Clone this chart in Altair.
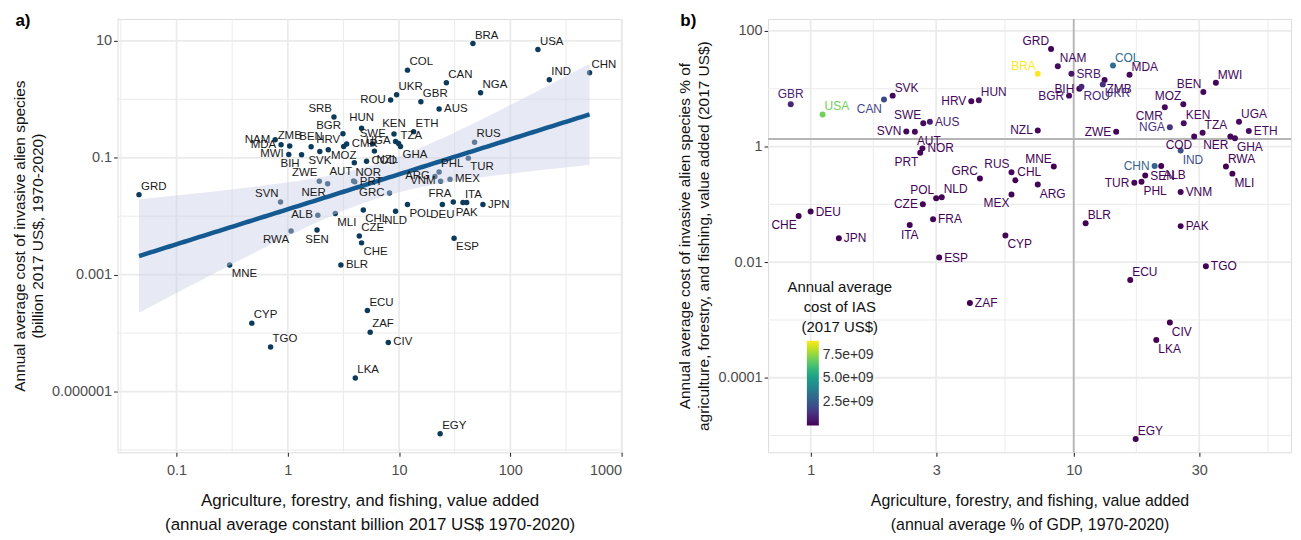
import altair as alt
import numpy as np
import pandas as pd

# ---------------- data ----------------
codes = ["GBR", "USA", "CAN", "SVK", "SWE", "AUS", "SVN", "AUT", "NOR", "PRT",
         "HRV", "HUN", "GRD", "NAM", "BRA", "SRB", "BIH", "ROU", "BGR", "NZL",
         "COL", "ZMB", "UKR", "MDA", "ZWE", "BEN", "MWI", "MOZ", "CMR", "KEN",
         "NGA", "UGA", "ETH", "TZA", "COD", "NER", "GHA", "IND", "CHN", "ALB",
         "RWA", "MLI", "MNE", "GRC", "RUS", "CHL", "ARG", "MEX", "POL", "NLD",
         "CZE", "FRA", "ITA", "CHE", "DEU", "JPN", "ESP", "CYP", "BLR", "TUR",
         "PHL", "SEN", "VNM", "PAK", "TGO", "ECU", "ZAF", "CIV", "LKA", "EGY"]

# agriculture, forestry & fishing value added (billion 2017 US$)
va_bn = [15.7, 177, 26.6, 1.94, 5.8, 22.9, 0.86, 3.96, 3.9, 4.0,
         2.31, 4.6, 0.046, 0.77, 46.1, 2.6, 1.33, 8.4, 3.13, 6.0,
         11.9, 1.04, 9.5, 0.87, 1.92, 1.62, 1.02, 3.18, 3.38, 9.0,
         54, 9.3, 13.5, 9.9, 5.1, 2.28, 10.3, 224, 515, 1.86,
         1.07, 2.67, 0.30, 8.2, 47.7, 4.77, 21.0, 28.7, 11.9, 9.3,
         4.39, 30.7, 37.5, 4.6, 24.5, 56.7, 31.2, 0.475, 3.0, 41.9,
         22.9, 1.83, 23.6, 40.5, 0.70, 5.19, 5.5, 8.0, 4.04, 23.4]

# annual average cost of invasive alien species (billion 2017 US$)
cost_bn = [0.91, 7.1, 1.92, 0.128, 0.173, 0.685, 0.0175, 0.082, 0.040, 0.0387,
           0.137, 0.32, 0.0234, 0.203, 9.0, 0.50, 0.113, 0.975, 0.257, 0.13,
           3.16, 0.159, 1.20, 0.167, 0.0396, 0.155, 0.114, 0.156, 0.172, 0.255,
           1.30, 0.19, 0.28, 0.175, 0.087, 0.036, 0.156, 2.16, 2.85, 0.0104,
           0.0056, 0.0111, 0.00146, 0.025, 0.185, 0.0128, 0.048, 0.043, 0.0158, 0.0122,
           0.0046, 0.0175, 0.0171, 0.0035, 0.0158, 0.0158, 0.0042, 0.000148, 0.00146, 0.0986,
           0.057, 0.0058, 0.0396, 0.0171, 0.000058, 0.000243, 0.000103, 0.000069, 0.000017, 0.0000019]

# agriculture value added, annual average % of GDP
agri_pct_gdp = [0.84, 1.11, 1.90, 2.05, 2.68, 2.84, 2.31, 2.49, 2.66, 2.61,
                4.08, 4.36, 8.2, 8.7, 7.3, 9.8, 10.5, 10.7, 9.6, 7.3,
                14.1, 13.1, 12.9, 16.3, 14.5, 31.1, 34.7, 26.1, 22.2, 26.2,
                23.2, 42.5, 46.3, 30.9, 28.7, 39.4, 41.0, 25.5, 20.3, 21.5,
                37.9, 40.1, 8.4, 4.4, 5.8, 6.0, 7.3, 5.8, 3.0, 3.15,
                2.67, 2.92, 2.38, 0.90, 1.0, 1.28, 3.08, 5.5, 11.1, 17.0,
                18.1, 18.7, 25.5, 25.5, 31.8, 16.4, 4.03, 23.2, 20.6, 17.2]

# cost of IAS as % of agriculture value added
cost_pct_va = [5.4, 3.6, 6.5, 7.6, 2.53, 2.68, 1.82, 1.8, 0.93, 0.78,
               6.07, 6.3, 48.5, 24.5, 18.2, 18.2, 10.0, 10.8, 7.6, 1.9,
               25.2, 14.2, 11.9, 17.4, 1.8, 8.8, 12.7, 5.4, 4.8, 2.53,
               2.15, 2.68, 1.85, 1.73, 1.49, 1.49, 1.39, 0.85, 0.46, 0.46,
               0.45, 0.34, 0.45, 0.28, 0.36, 0.26, 0.22, 0.148, 0.127, 0.133,
               0.10, 0.055, 0.044, 0.063, 0.075, 0.026, 0.012, 0.029, 0.047, 0.236,
               0.246, 0.315, 0.163, 0.042, 0.0085, 0.0049, 0.00196, 0.0009, 0.00045, 0.0000087]

# reference lines of panel b
ref_pct_gdp = [10]
ref_cost_pct = [1.35]

# tick values / gridlines
a_x_major = [0.1, 1, 10, 100, 1000]
a_x_minor = [0.0316, 0.316, 3.16, 31.6, 316]
a_y_major = [10, 0.1, 0.001, 0.00001]
a_y_minor = [1, 0.01, 0.0001, 0.000001]
b_x_major = [1, 3, 10, 30]
b_x_minor = [1.73, 5.48, 17.3, 54.8]
b_y_major = [100, 1, 0.01, 0.0001]
b_y_minor = [10, 0.1, 0.001, 0.00001]
legend_values = [2.5e9, 5.0e9, 7.5e9]

# label placement (repel-like side of the point)
pos_a = {"GBR": "ne", "USA": "ne", "CAN": "ne", "SVK": "s", "SWE": "n", "AUS": "e", "SVN": "nw",
         "AUT": "sw", "NOR": "ne", "PRT": "e", "HRV": "n", "HUN": "n", "GRD": "ne", "NAM": "w",
         "BRA": "ne", "SRB": "nw", "BIH": "sw", "ROU": "w", "BGR": "nw", "NZL": "se", "COL": "ne",
         "ZMB": "n", "UKR": "ne", "MDA": "w", "ZWE": "nw", "BEN": "n", "MWI": "w", "MOZ": "s",
         "CMR": "e", "KEN": "n", "NGA": "ne", "UGA": "w", "ETH": "ne", "TZA": "ne", "COD": "e",
         "NER": "sw", "GHA": "se", "IND": "ne", "CHN": "ne", "ALB": "w", "RWA": "sw", "MLI": "se",
         "MNE": "se", "GRC": "w", "RUS": "ne", "CHL": "se", "ARG": "w", "MEX": "e", "POL": "se",
         "NLD": "s", "CZE": "ne", "FRA": "nw", "ITA": "ne", "CHE": "se", "DEU": "s", "JPN": "e",
         "ESP": "se", "CYP": "ne", "BLR": "e", "TUR": "se", "PHL": "ne", "SEN": "s", "VNM": "w",
         "PAK": "s", "TGO": "ne", "ECU": "ne", "ZAF": "ne", "CIV": "e", "LKA": "ne", "EGY": "ne"}
pos_b = {"GBR": "n", "USA": "ne", "CAN": "sw", "SVK": "ne", "SWE": "nw", "AUS": "e", "SVN": "w",
         "AUT": "se", "NOR": "e", "PRT": "sw", "HRV": "w", "HUN": "ne", "GRD": "nw", "NAM": "ne",
         "BRA": "nw", "SRB": "e", "BIH": "w", "ROU": "se", "BGR": "w", "NZL": "w", "COL": "ne",
         "ZMB": "se", "UKR": "se", "MDA": "ne", "ZWE": "w", "BEN": "nw", "MWI": "ne", "MOZ": "nw",
         "CMR": "sw", "KEN": "ne", "NGA": "w", "UGA": "ne", "ETH": "e", "TZA": "ne", "COD": "sw",
         "NER": "sw", "GHA": "se", "IND": "se", "CHN": "w", "ALB": "se", "RWA": "ne", "MLI": "se",
         "MNE": "nw", "GRC": "nw", "RUS": "nw", "CHL": "ne", "ARG": "se", "MEX": "sw", "POL": "nw",
         "NLD": "ne", "CZE": "w", "FRA": "e", "ITA": "s", "CHE": "sw", "DEU": "e", "JPN": "e",
         "ESP": "e", "CYP": "se", "BLR": "ne", "TUR": "w", "PHL": "se", "SEN": "e", "VNM": "e",
         "PAK": "e", "TGO": "e", "ECU": "ne", "ZAF": "e", "CIV": "se", "LKA": "se", "EGY": "ne"}

OFFSETS = {"e": (5, 0, "left"), "w": (-5, 0, "right"), "ne": (2, -8, "left"),
           "nw": (-2, -8, "right"), "se": (2, 9, "left"), "sw": (-2, 9, "right"),
           "n": (0, -10, "center"), "s": (0, 10, "center")}

df = pd.DataFrame({"code": codes, "va_bn": va_bn, "cost_bn": cost_bn,
                   "agri_pct_gdp": agri_pct_gdp, "cost_pct_va": cost_pct_va})
df["cost_usd"] = df["cost_bn"] * 1e9
df["pos_a"] = df["code"].map(pos_a)
df["pos_b"] = df["code"].map(pos_b)

# ---------------- linear fit on log10 scales with 95% CI ----------------
lx = np.log10(df["va_bn"].to_numpy())
ly = np.log10(df["cost_bn"].to_numpy())
n = len(lx)
b1, b0 = np.polyfit(lx, ly, 1)
resid = ly - (b0 + b1 * lx)
s = np.sqrt(np.sum(resid ** 2) / (n - 2))
sxx = np.sum((lx - lx.mean()) ** 2)
grid = np.linspace(lx.min(), lx.max(), 120)
fit = b0 + b1 * grid
se = s * np.sqrt(1.0 / n + (grid - lx.mean()) ** 2 / sxx)
t95 = 1.995
fit_df = pd.DataFrame({"x": 10 ** grid, "y": 10 ** fit,
                       "lo": 10 ** (fit - t95 * se), "hi": 10 ** (fit + t95 * se)})

FONT = "Liberation Sans"
GRID_COL = "#ebebeb"

axis_common = dict(grid=False, domain=False, tickColor="#333333", tickSize=4, tickWidth=1.1,
                   labelFontSize=14.5, labelColor="#4d4d4d", labelFont=FONT,
                   titleFont=FONT, titleFontWeight="normal", titleColor="#111111")

# ---------------- panel a scales / axes ----------------
xa = alt.Scale(type="log", domain=[10 ** -1.53, 1000], nice=False)
ya = alt.Scale(type="log", domain=[10 ** -6.04, 10 ** 1.375], nice=False)
ax_a_x = alt.Axis(values=a_x_major, format="~g", labelPadding=7, titleFontSize=17,
                  titlePadding=16, titleLineHeight=24,
                  title=["Agriculture, forestry, and fishing, value added",
                         "(annual average constant billion 2017 US$  1970-2020)"], **axis_common)
ax_a_y = alt.Axis(values=a_y_major, labelPadding=2, titleFontSize=15.5, titlePadding=6,
                  titleLineHeight=18,
                  labelExpr="datum.value > 1 ? '10' : datum.value > 0.01 ? '0.1' : datum.value > 0.0001 ? '0.001' : '0.000001'",
                  title=["Annual average cost of invasive alien species",
                         "(billion 2017 US$, 1970-2020)"], **axis_common)

def XA(f):
    return alt.X(f, scale=xa, axis=ax_a_x)

def YA(f):
    return alt.Y(f, scale=ya, axis=ax_a_y)

# ---------------- panel b scales / axes ----------------
xb = alt.Scale(type="log", domain=[10 ** -0.162, 10 ** 1.826], nice=False)
yb = alt.Scale(type="log", domain=[10 ** -5.29, 10 ** 2.207], nice=False)
ax_b_x = alt.Axis(values=b_x_major, format="~g", labelPadding=7, titleFontSize=16,
                  titlePadding=16, titleLineHeight=24,
                  title=["Agriculture, forestry, and fishing, value added",
                         "(annual average % of GDP, 1970-2020)"], **axis_common)
ax_b_y = alt.Axis(values=b_y_major, format="~g", labelPadding=2, titleFontSize=15.5,
                  titlePadding=6, titleLineHeight=19,
                  title=["Annual average cost of invasive alien species % of",
                         "agriculture, forestry, and fishing, value added (2017 US$)"], **axis_common)

def XB(f):
    return alt.X(f, scale=xb, axis=ax_b_x)

def YB(f):
    return alt.Y(f, scale=yb, axis=ax_b_y)

def vgrid(vals, X, width, color=GRID_COL):
    return alt.Chart(pd.DataFrame({"v": vals})).mark_rule(color=color, strokeWidth=width).encode(x=X("v:Q"))

def hgrid(vals, Y, width, color=GRID_COL):
    return alt.Chart(pd.DataFrame({"v": vals})).mark_rule(color=color, strokeWidth=width).encode(y=Y("v:Q"))

base = alt.Chart(df)

def label_layers(pos_field, xenc, yenc, color=None, fixed_color=None, size=11.5):
    layers = []
    for key, (dx, dy, align) in OFFSETS.items():
        enc = dict(x=xenc, y=yenc, text="code:N")
        if color is not None:
            enc["color"] = color
        kw = dict(dx=dx, dy=dy, align=align, baseline="middle", fontSize=size, font=FONT)
        if fixed_color is not None:
            kw["color"] = fixed_color
        layers.append(base.transform_filter(alt.datum[pos_field] == key).mark_text(**kw).encode(**enc))
    return layers

# ---------------- panel a ----------------
pts_a = base.mark_circle(size=30, opacity=1, color="#0c3a5b").encode(
    x=XA("va_bn:Q"), y=YA("cost_bn:Q"))

band_a = alt.Chart(fit_df).mark_area(color="#c9cfe6", opacity=0.45).encode(
    x=XA("x:Q"), y=YA("lo:Q"), y2="hi:Q")
line_a = alt.Chart(fit_df).mark_line(color="#145a91", strokeWidth=4.5).encode(
    x=XA("x:Q"), y=YA("y:Q"))

labels_a = label_layers("pos_a", XA("va_bn:Q"), YA("cost_bn:Q"), fixed_color="#1a1a1a")

tag_a = alt.Chart(pd.DataFrame({"t": ["a)"]})).mark_text(
    fontSize=17, fontWeight="bold", font=FONT, align="center", baseline="middle", color="#000").encode(
    text="t:N", x=alt.value(-95), y=alt.value(2))

panel_a = alt.layer(
    vgrid(a_x_minor, XA, 1.0), hgrid(a_y_minor, YA, 1.0),
    vgrid(a_x_major, XA, 1.8), hgrid(a_y_major, YA, 1.8),
    pts_a, band_a, line_a, *labels_a, tag_a
).properties(width=506, height=435)

# ---------------- panel b ----------------
cmin = float(df["cost_usd"].min())
cmax = float(df["cost_usd"].max())
cscale = alt.Scale(scheme="viridis", domain=[cmin, cmax])

legend_b = alt.Legend(
    title=["Annual average", "cost of IAS", "(2017 US$)"],
    orient="none", legendX=672, legendY=262, direction="vertical",
    gradientLength=85, gradientThickness=12, values=legend_values,
    labelExpr="format(datum.value / 1e9, '.1f') + 'e+09'",
    titleFontSize=15, titleFontWeight="normal", titleFont=FONT, titleColor="#111111",
    titleLineHeight=20, titleAlign="center", titleAnchor="middle", titlePadding=6,
    labelFontSize=14, labelFont=FONT, labelColor="#333333", labelOffset=4,
    gradientStrokeWidth=0)

ref_v = vgrid(ref_pct_gdp, XB, 1.8, color="#b5b5b5")
ref_h = hgrid(ref_cost_pct, YB, 1.8, color="#b5b5b5")

pts_b = base.mark_circle(size=36, opacity=1).encode(
    x=XB("agri_pct_gdp:Q"), y=YB("cost_pct_va:Q"),
    color=alt.Color("cost_usd:Q", scale=cscale, legend=legend_b))

labels_b = label_layers("pos_b", XB("agri_pct_gdp:Q"), YB("cost_pct_va:Q"),
                        color=alt.Color("cost_usd:Q", scale=cscale, legend=legend_b),
                        size=12)

tag_b = alt.Chart(pd.DataFrame({"t": ["b)"]})).mark_text(
    fontSize=17, fontWeight="bold", font=FONT, align="center", baseline="middle", color="#000").encode(
    text="t:N", x=alt.value(-80), y=alt.value(2))

panel_b = alt.layer(
    vgrid(b_x_minor, XB, 1.0), hgrid(b_y_minor, YB, 1.0),
    vgrid(b_x_major, XB, 1.8), hgrid(b_y_major, YB, 1.8),
    ref_v, ref_h, pts_b, *labels_b, tag_b
).properties(width=525, height=435)

chart = alt.hconcat(panel_a, panel_b, spacing=54).properties(
    padding={"left": 4, "top": 2, "right": 0, "bottom": 2}
).configure_view(stroke="#333333", strokeWidth=1.2).configure(font=FONT)

chart.save("out.html", embed_options={"renderer": "svg", "actions": False})
